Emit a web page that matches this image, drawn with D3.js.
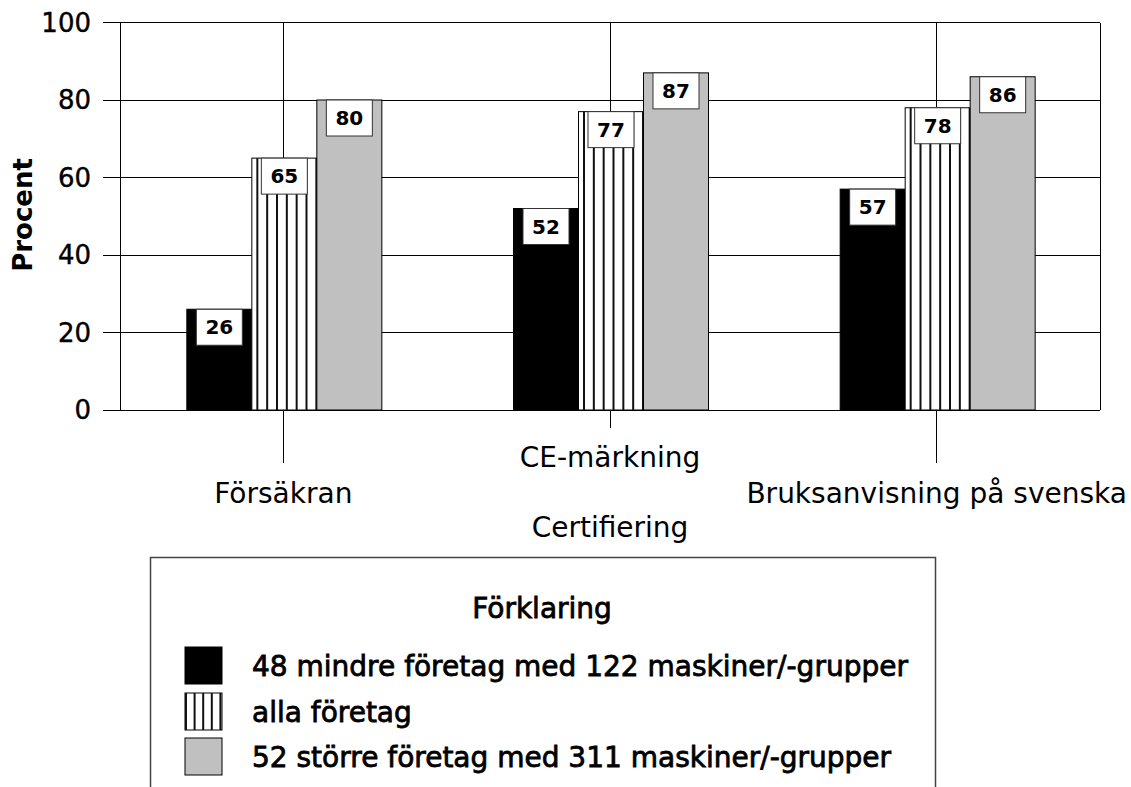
<!DOCTYPE html>
<html><head><meta charset="utf-8">
<script src="https://cdn.jsdelivr.net/npm/d3@7"></script>
<style>
body{margin:0;background:#fff;}
svg text{font-family:"DejaVu Sans",sans-serif;fill:#000;}
</style></head>
<body><svg id="c" width="1131" height="787"></svg>
<script>
const categories = ["Försäkran", "CE-märkning", "Bruksanvisning på svenska"];
const seriesNames = ["48 mindre företag med 122 maskiner/-grupper", "alla företag", "52 större företag med 311 maskiner/-grupper"];
const smallCompanies = [26, 52, 57];
const allCompanies = [65, 77, 78];
const largeCompanies = [80, 87, 86];
const yTicks = [0, 20, 40, 60, 80, 100];
const yTitle = "Procent";
const xTitle = "Certifiering";
const legendTitle = "Förklaring";

const series = [smallCompanies, allCompanies, largeCompanies];
const fills = ["#000", "stripe", "#c0c0c0"];

const svg = d3.select("#c");
const L = 120, R = 1100, T = 22.5, B = 410;
const x = d3.scaleBand().domain(categories).range([L, R]).paddingInner(0).paddingOuter(0);
const y = d3.scaleLinear().domain([0, 100]).range([B, T]);
const groupW = 195;
const xs = d3.scaleBand().domain([0,1,2]).range([0, groupW]);
const bw = xs.bandwidth();

// horizontal gridlines (with outside tick)
svg.append("g").selectAll("line").data(yTicks).join("line")
  .attr("x1", L - 17).attr("x2", R).attr("y1", d => y(d)).attr("y2", d => y(d))
  .attr("stroke", "#000").attr("stroke-width", 1).attr("shape-rendering","crispEdges");
svg.append("line").attr("x1", L).attr("x2", L).attr("y1", T).attr("y2", B).attr("stroke","#000").attr("shape-rendering","crispEdges");
svg.append("line").attr("x1", R).attr("x2", R).attr("y1", T).attr("y2", B).attr("stroke","#000").attr("shape-rendering","crispEdges");
const lineEnds = [463, 428, 463];
svg.append("g").selectAll("line").data(categories).join("line")
  .attr("x1", d => x(d) + x.bandwidth()/2).attr("x2", d => x(d) + x.bandwidth()/2)
  .attr("y1", T).attr("y2", (d,i) => lineEnds[i])
  .attr("stroke", "#000").attr("shape-rendering","crispEdges");

// y tick labels
svg.append("g").selectAll("text").data(yTicks).join("text")
  .attr("x", 91).attr("y", d => y(d)).attr("dy", "0.36em")
  .attr("text-anchor", "end").attr("font-size", 26).attr("stroke","#000").attr("stroke-width",0.4).text(d => d);

// y title
svg.append("text").attr("transform", "translate(32,215) rotate(-90)")
  .attr("text-anchor", "middle").attr("font-size", 26).attr("font-weight", "bold").text(yTitle);

// bars
categories.forEach((cat, ci) => {
  const gx = x(cat) + (x.bandwidth() - groupW) / 2 + 1;
  series.forEach((s, si) => {
    const v = s[ci];
    const bx = gx + xs(si), by = y(v), bh = B - y(v);
    const g = svg.append("g");
    g.append("rect").attr("x", bx).attr("y", by).attr("width", bw).attr("height", bh)
      .attr("fill", fills[si] === "stripe" ? "#fff" : fills[si])
      .attr("stroke", "#000").attr("stroke-width", 1);
    if (fills[si] === "stripe") {
      const n = 7, step = (bw - 6) / 6;
      g.selectAll("line").data(d3.range(n)).join("line")
        .attr("x1", k => bx + 5.5 + k * step).attr("x2", k => bx + 5.5 + k * step)
        .attr("y1", by).attr("y2", B).attr("stroke", "#111").attr("stroke-width", 2);
    }
    const boxW = 46, boxH = 36;
    const cx = bx + bw / 2;
    g.append("rect").attr("x", cx - boxW/2).attr("y", by).attr("width", boxW).attr("height", boxH)
      .attr("fill", "#fff").attr("stroke", "#333").attr("stroke-width", 1);
    g.append("text").attr("x", cx).attr("y", by + boxH/2).attr("dy", "0.36em")
      .attr("text-anchor", "middle").attr("font-size", 20).attr("font-weight", "bold").text(v);
  });
});

// category labels
const labelY = [503, 467, 503];
svg.append("g").selectAll("text").data(categories).join("text")
  .attr("x", d => x(d) + x.bandwidth()/2).attr("y", (d,i) => labelY[i])
  .attr("text-anchor", "middle").attr("font-size", 28).text(d => d);
svg.append("text").attr("x", x(categories[1]) + x.bandwidth()/2).attr("y", 537)
  .attr("text-anchor", "middle").attr("font-size", 28).text(xTitle);

// legend
svg.append("path").attr("d", "M150.5,790 V557.5 H935.5 V790").attr("fill", "none").attr("stroke", "#444").attr("stroke-width", 1.5);
svg.append("text").attr("x", 542).attr("y", 618).attr("text-anchor", "middle")
  .attr("font-size", 28).attr("stroke","#000").attr("stroke-width",0.8).text(legendTitle);
const swY = [647, 693, 738];
const lg = svg.append("g").selectAll("g").data(seriesNames).join("g");
lg.each(function(name, i) {
  const g = d3.select(this);
  g.append("rect").attr("x", 185).attr("y", swY[i]).attr("width", 37).attr("height", 37)
    .attr("fill", fills[i] === "stripe" ? "#fff" : fills[i]).attr("stroke", "#000");
  if (fills[i] === "stripe") {
    g.selectAll("line").data(d3.range(5)).join("line")
      .attr("x1", k => 186 + k * 8.6).attr("x2", k => 186 + k * 8.6)
      .attr("y1", swY[i]).attr("y2", swY[i] + 37).attr("stroke", "#111").attr("stroke-width", 2);
  }
  g.append("text").attr("x", 252).attr("y", swY[i] + 18.5).attr("dy", "0.36em")
    .attr("font-size", 28).attr("stroke","#000").attr("stroke-width",0.8).text(name);
});
</script></body></html>
